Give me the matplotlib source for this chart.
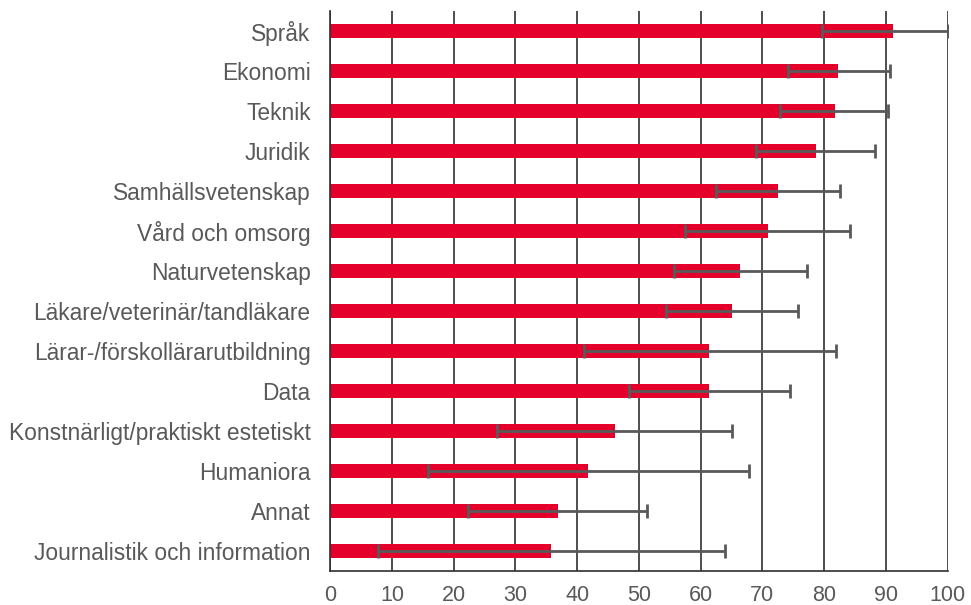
import numpy as np
import matplotlib.pyplot as plt

categories = [
    "Språk", "Ekonomi", "Teknik", "Juridik", "Samhällsvetenskap",
    "Vård och omsorg", "Naturvetenskap", "Läkare/veterinär/tandläkare",
    "Lärar-/förskollärarutbildning", "Data",
    "Konstnärligt/praktiskt estetiskt", "Humaniora", "Annat",
    "Journalistik och information",
]
values = [91.2, 82.2, 81.7, 78.6, 72.6, 70.9, 66.4, 65.1, 61.4, 61.4, 46.1, 41.8, 36.9, 35.8]
err_low = [79.6, 74.1, 72.9, 68.9, 62.5, 57.5, 55.7, 54.4, 41.1, 48.4, 27.0, 15.8, 22.4, 7.7]
err_high = [100.0, 90.6, 90.4, 88.2, 82.6, 84.2, 77.2, 75.7, 81.9, 74.5, 65.1, 67.9, 51.3, 64.0]
xticks = list(range(0, 101, 10))

plt.rcParams["font.family"] = ["Liberation Sans", "DejaVu Sans"]

vals = np.array(values)
xerr = np.vstack([vals - np.array(err_low), np.array(err_high) - vals])
y = np.arange(len(categories))

fig = plt.figure(figsize=(9.71, 6.05), dpi=100)
ax = fig.add_axes([0.340, 0.056, 0.636, 0.926])

ax.set_axisbelow(True)
ax.grid(axis="x", color="#303030", linewidth=1.2)
ax.barh(y, vals, height=0.36, color="#e4002b", zorder=2)
ax.errorbar(vals, y, xerr=xerr, fmt="none", ecolor="#595959",
            elinewidth=2, capsize=5, capthick=2, zorder=3)

ax.set_yticks(y)
ax.set_yticklabels(categories)
ax.set_xticks(xticks)
ax.set_xlim(0, 100)
ax.set_ylim(len(categories) - 0.5, -0.5)

for s in ["top", "right"]:
    ax.spines[s].set_visible(False)
for s in ["left", "bottom"]:
    ax.spines[s].set_color("#303030")
    ax.spines[s].set_linewidth(1.2)

ax.tick_params(axis="y", length=0, pad=14, labelsize=16.4, labelcolor="#595959")
ax.tick_params(axis="x", length=0, pad=10, labelsize=15.5, labelcolor="#595959")

fig.savefig("out.png", dpi=100)
